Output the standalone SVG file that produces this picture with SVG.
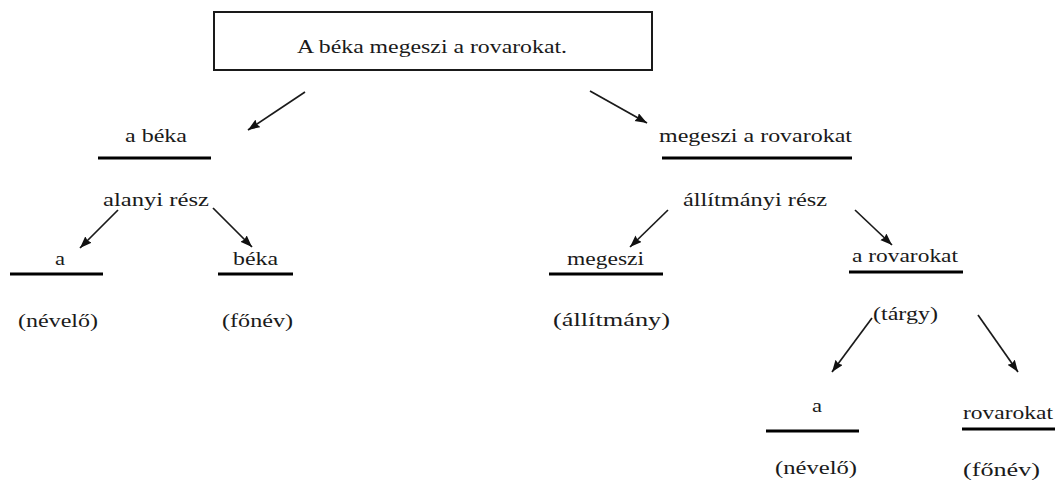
<svg xmlns="http://www.w3.org/2000/svg" width="1059" height="486" viewBox="0 0 1059 486">
<style>
text{font-family:"Liberation Serif","Times New Roman",serif;font-size:19px;fill:#1a1a1a}
.u{stroke:#000;stroke-width:3;fill:none}
.a{stroke:#1a1a1a;stroke-width:1.7;fill:none;marker-end:url(#ah)}
</style>
<defs>
<marker id="ah" markerUnits="userSpaceOnUse" markerWidth="14" markerHeight="10" refX="12" refY="4.5" orient="auto">
<path d="M0,0 L12,4.5 L0,9 L1.5,4.5 Z" fill="#111"/>
</marker>
</defs>
<rect width="1059" height="486" fill="#fff"/>
<g id="n-root">
<rect x="214" y="12" width="438" height="58" fill="#fff" stroke="#1a1a1a" stroke-width="2"/>
<text x="297" y="53" textLength="270" lengthAdjust="spacingAndGlyphs">A béka megeszi a rovarokat.</text>
</g>
<g id="n-abeka">
<text x="125" y="142" textLength="62" lengthAdjust="spacingAndGlyphs">a béka</text>
<line class="u" x1="98" y1="158" x2="211" y2="158"/>
<text x="103" y="206" textLength="106" lengthAdjust="spacingAndGlyphs">alanyi rész</text>
</g>
<g id="n-a1">
<text x="55" y="265" textLength="10" lengthAdjust="spacingAndGlyphs">a</text>
<line class="u" x1="10" y1="274" x2="103" y2="274"/>
<text x="18" y="327" textLength="80" lengthAdjust="spacingAndGlyphs">(névelő)</text>
</g>
<g id="n-beka">
<text x="233" y="265" textLength="45" lengthAdjust="spacingAndGlyphs">béka</text>
<line class="u" x1="218" y1="274" x2="293" y2="274"/>
<text x="222" y="327" textLength="71" lengthAdjust="spacingAndGlyphs">(főnév)</text>
</g>
<g id="n-megeszi-a-rovarokat">
<text x="659" y="142" textLength="193" lengthAdjust="spacingAndGlyphs">megeszi a rovarokat</text>
<line class="u" x1="662" y1="158" x2="852" y2="158"/>
<text x="683" y="206" textLength="144" lengthAdjust="spacingAndGlyphs">állítmányi rész</text>
</g>
<g id="n-megeszi">
<text x="567" y="265" textLength="77" lengthAdjust="spacingAndGlyphs">megeszi</text>
<line class="u" x1="549" y1="274" x2="663" y2="274"/>
<text x="553" y="326" textLength="117" lengthAdjust="spacingAndGlyphs">(állítmány)</text>
</g>
<g id="n-a-rovarokat">
<text x="852" y="262" textLength="106" lengthAdjust="spacingAndGlyphs">a rovarokat</text>
<line class="u" x1="849" y1="272" x2="963" y2="272"/>
<text x="873" y="320" textLength="65" lengthAdjust="spacingAndGlyphs">(tárgy)</text>
</g>
<g id="n-a2">
<text x="812" y="412" textLength="10" lengthAdjust="spacingAndGlyphs">a</text>
<line class="u" x1="766" y1="431" x2="859" y2="431"/>
<text x="775" y="474" textLength="82" lengthAdjust="spacingAndGlyphs">(névelő)</text>
</g>
<g id="n-rovarokat">
<text x="963" y="419" textLength="90" lengthAdjust="spacingAndGlyphs">rovarokat</text>
<line class="u" x1="962" y1="429" x2="1055" y2="429"/>
<text x="963" y="476" textLength="77" lengthAdjust="spacingAndGlyphs">(főnév)</text>
</g>
<g id="connectors">
<path class="a" d="M305,92 L248,130"/>
<path class="a" d="M590,91 L647,123"/>
<path class="a" d="M118,210 L80,248"/>
<path class="a" d="M213,208 L252,247"/>
<path class="a" d="M668,210 L630,247"/>
<path class="a" d="M855,210 L892,245"/>
<path class="a" d="M872,318 L832,372"/>
<path class="a" d="M978,315 L1018,372"/>
</g>
</svg>
